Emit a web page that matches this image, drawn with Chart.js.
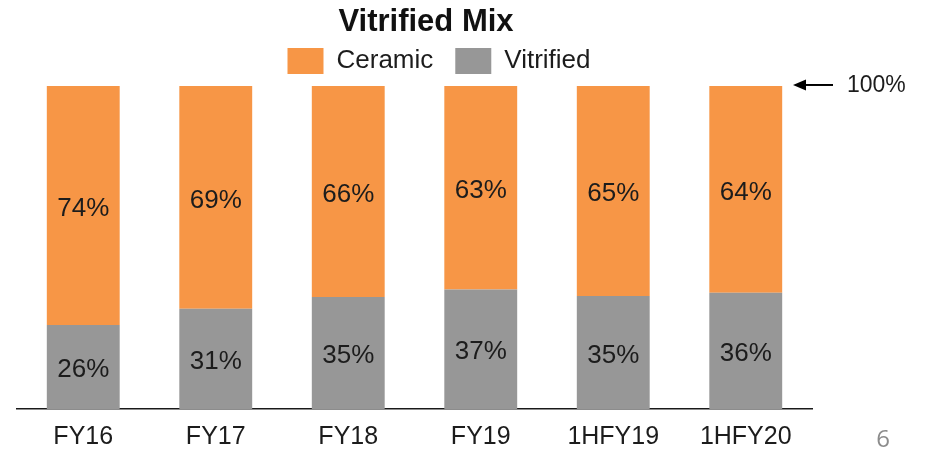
<!DOCTYPE html>
<html>
<head>
<meta charset="utf-8">
<script src="https://cdn.jsdelivr.net/npm/chart.js@4.4.1/dist/chart.umd.min.js"></script>
<style>
  html, body { margin: 0; padding: 0; background: #ffffff; }
  #wrap { width: 926px; height: 451px; position: relative; }
</style>
</head>
<body>
<div id="wrap"><canvas id="c" width="926" height="451"></canvas></div>
<script>
const categories = ['FY16', 'FY17', 'FY18', 'FY19', '1HFY19', '1HFY20'];
const vitrifiedValues = [26, 31, 35, 37, 35, 36];
const ceramicValues = [74, 69, 66, 63, 65, 64];
const seriesNames = ['Vitrified', 'Ceramic'];
const titleText = 'Vitrified Mix';
const markerLabel = '100%';
const markerValue = 100;
const pageNumber = '6';

const ORANGE = '#F79646';
const GRAY = '#979797';
const FONT = "'Liberation Sans', Arial, sans-serif";

// each bar shows its share of the category total (the bars all reach 100%)
const totals = categories.map((_, i) => vitrifiedValues[i] + ceramicValues[i]);
const vitShare = vitrifiedValues.map((v, i) => v / totals[i] * 100);
const cerShare = ceramicValues.map((v, i) => v / totals[i] * 100);
const rawLabels = [vitrifiedValues, ceramicValues];

const shiftPlugin = {
  id: 'shiftBlocks',
  afterLayout(chart) {
    const t = chart.titleBlock;
    if (t) { t.left += 11.5; t.right += 11.5; t.top += 8; t.bottom += 8; }
    const l = chart.legend;
    if (l) { l.left += 24.5; l.right += 24.5; l.top -= 2; l.bottom -= 2; }
  }
};

const valueLabelPlugin = {
  id: 'valueLabels',
  afterDatasetsDraw(chart) {
    const ctx = chart.ctx;
    ctx.save();
    ctx.font = '26px ' + FONT;
    ctx.fillStyle = '#1c1c1c';
    ctx.textAlign = 'center';
    ctx.textBaseline = 'middle';
    chart.data.datasets.forEach((ds, di) => {
      const meta = chart.getDatasetMeta(di);
      meta.data.forEach((el, i) => {
        const y = (el.y + el.base) / 2;
        ctx.fillText(rawLabels[di][i] + '%', el.x, y + 3);
      });
    });
    ctx.restore();
  }
};

const markerPlugin = {
  id: 'marker',
  afterDraw(chart) {
    const ctx = chart.ctx;
    const y = chart.scales.y.getPixelForValue(markerValue) - 1;
    const tipX = chart.chartArea.right - 19;
    ctx.save();
    ctx.strokeStyle = '#000';
    ctx.fillStyle = '#000';
    ctx.lineWidth = 2;
    ctx.beginPath();
    ctx.moveTo(tipX + 10, y);
    ctx.lineTo(tipX + 40, y);
    ctx.stroke();
    ctx.beginPath();
    ctx.moveTo(tipX, y);
    ctx.lineTo(tipX + 13, y - 5.5);
    ctx.lineTo(tipX + 13, y + 5.5);
    ctx.closePath();
    ctx.fill();
    ctx.font = '23px ' + FONT;
    ctx.fillStyle = '#1c1c1c';
    ctx.textAlign = 'left';
    ctx.textBaseline = 'middle';
    ctx.fillText(markerLabel, tipX + 54, y + 1);
    ctx.font = "24px 'Open Sans', sans-serif";
    ctx.fillStyle = '#8c8c8c';
    ctx.textAlign = 'center';
    ctx.fillText(pageNumber, 883, 440);
    ctx.restore();
  }
};

new Chart(document.getElementById('c'), {
  type: 'bar',
  data: {
    labels: categories,
    datasets: [
      { label: seriesNames[0], data: vitShare, backgroundColor: GRAY, borderWidth: 0 },
      { label: seriesNames[1], data: cerShare, backgroundColor: ORANGE, borderWidth: 0 }
    ]
  },
  options: {
    responsive: false,
    animation: false,
    devicePixelRatio: 1,
    layout: { padding: { left: 17, right: 114, top: 1, bottom: 0 } },
    datasets: { bar: { categoryPercentage: 1, barPercentage: 0.55 } },
    plugins: {
      title: {
        display: true,
        text: titleText,
        color: '#111',
        font: { family: FONT, size: 31, weight: 'bold', lineHeight: 0.87 },
        padding: { top: 0, bottom: 0 }
      },
      legend: {
        display: true,
        position: 'top',
        reverse: true,
        labels: {
          boxWidth: 36,
          boxHeight: 26,
          padding: 22,
          color: '#1c1c1c',
          font: { family: FONT, size: 26 }
        }
      },
      tooltip: { enabled: false }
    },
    scales: {
      x: {
        stacked: true,
        grid: { display: false, drawTicks: false },
        border: { display: true, color: '#1a1a1a', width: 1.5 },
        ticks: { color: '#1c1c1c', padding: 13, font: { family: FONT, size: 25 } },
        afterFit(scale) { scale.height = 42; }
      },
      y: {
        stacked: true,
        display: false,
        min: 0,
        max: 100
      }
    }
  },
  plugins: [shiftPlugin, valueLabelPlugin, markerPlugin]
});
</script>
</body>
</html>
